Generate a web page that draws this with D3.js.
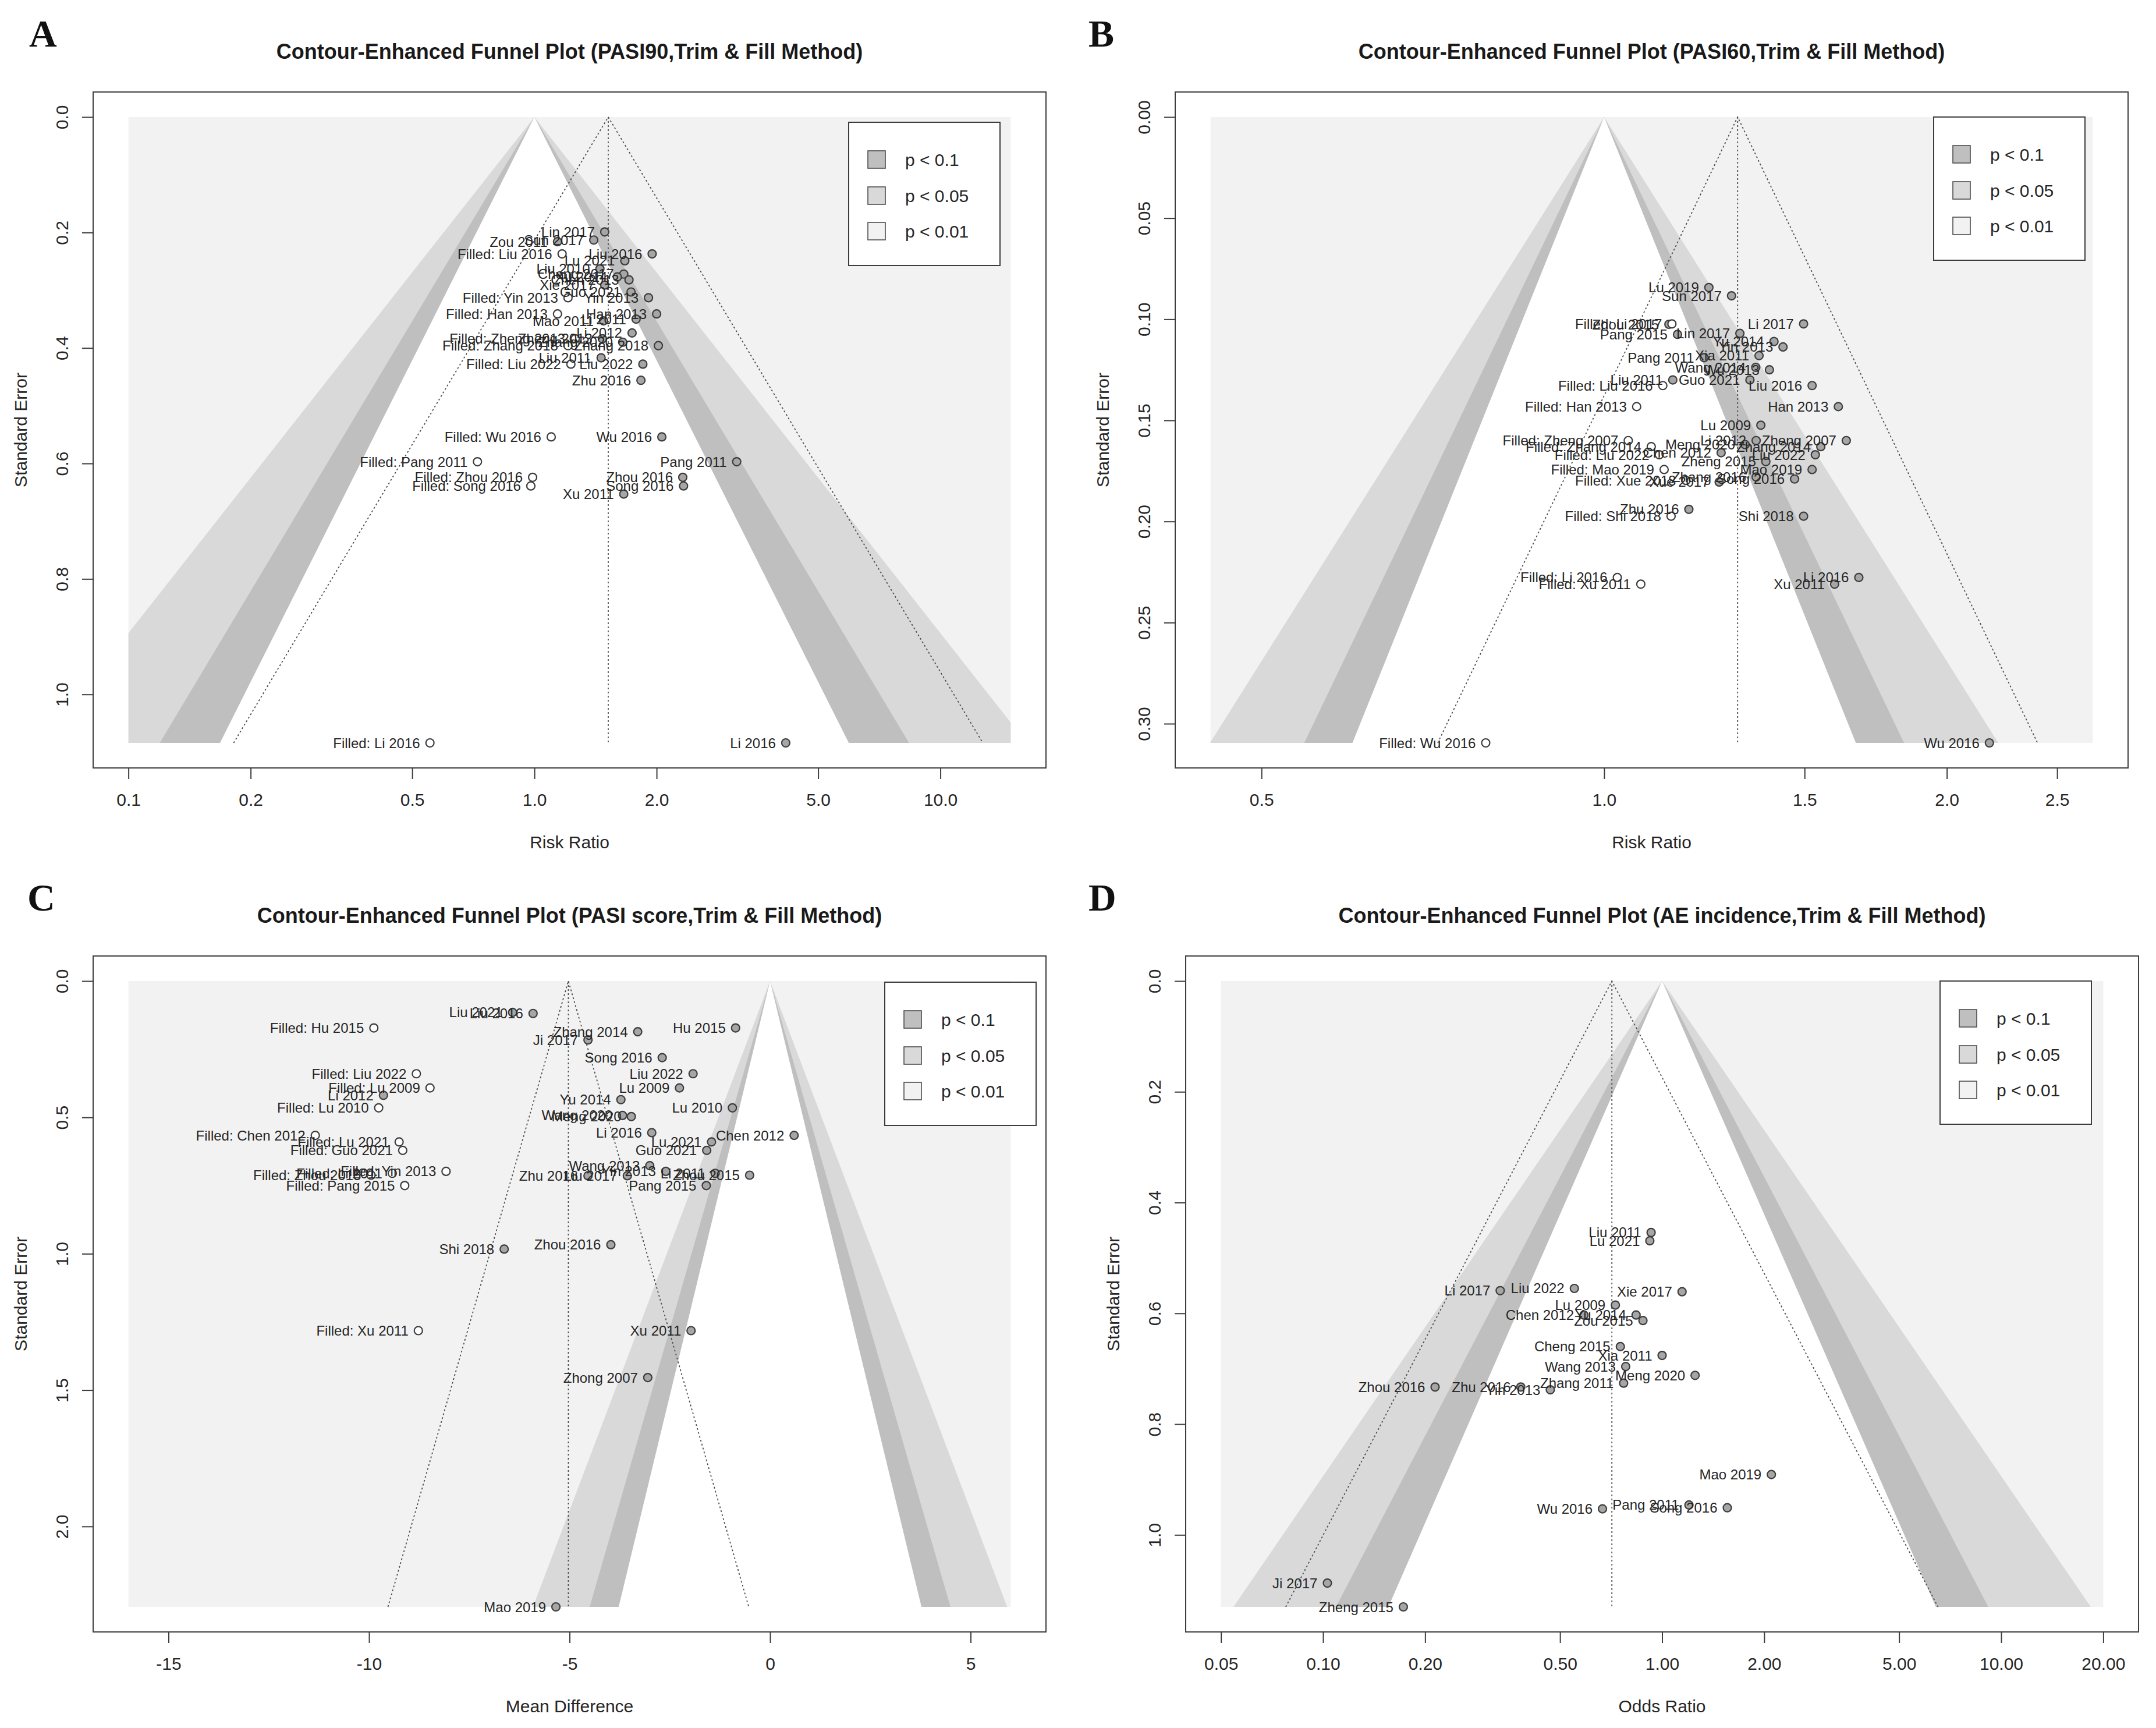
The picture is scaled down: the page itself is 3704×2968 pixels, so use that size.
<!DOCTYPE html>
<html>
<head>
<meta charset="utf-8">
<script src="https://cdn.jsdelivr.net/npm/d3@7"></script>
<style>
  body { margin: 0; background: #fff; }
  text { font-family: "Liberation Sans", Arial, sans-serif; fill: #262626; }
</style>
</head>
<body>
<script>
  var W = 3704, H = 2968;

  // A : PASI90, risk ratio
  var aStudy = ["Lin 2017", "Sun 2017", "Zou 2011", "Liu 2016", "Lu 2021", "Liu 2010", "Cheng 2017", "Xu 2014", "Chen 2013", "Xie 2017",
      "Guo 2021", "Yin 2013", "Han 2013", "Mao 2011", "Li 2011", "Li 2012", "Zheng 2013", "Zhang 2020", "Zhang 2018", "Liu 2011",
      "Liu 2022", "Zhu 2016", "Wu 2016", "Pang 2011", "Zhou 2016", "Song 2016", "Xu 2011", "Li 2016",
      "Filled: Liu 2016", "Filled: Yin 2013", "Filled: Han 2013", "Filled: Zheng 2013", "Filled: Zhang 2018", "Filled: Liu 2022",
      "Filled: Wu 2016", "Filled: Pang 2011", "Filled: Zhou 2016", "Filled: Song 2016", "Filled: Li 2016"];
  var aRR = [1.49, 1.40, 1.14, 1.95, 1.67, 1.45, 1.66, 1.60, 1.71, 1.49,
      1.73, 1.91, 2.00, 1.48, 1.78, 1.74, 1.47, 1.65, 2.02, 1.46,
      1.85, 1.83, 2.06, 3.15, 2.32, 2.33, 1.66, 4.16,
      1.17, 1.21, 1.14, 1.26, 1.21, 1.23, 1.10, 0.724, 0.99, 0.98, 0.553];
  var aSE = [0.199, 0.213, 0.216, 0.237, 0.249, 0.263, 0.272, 0.277, 0.282, 0.291,
      0.303, 0.313, 0.341, 0.353, 0.350, 0.374, 0.384, 0.390, 0.396, 0.417,
      0.428, 0.456, 0.554, 0.597, 0.624, 0.639, 0.653, 1.084,
      0.237, 0.313, 0.341, 0.384, 0.396, 0.428, 0.554, 0.597, 0.624, 0.639, 1.084];
  var aXTicks = [0.1, 0.2, 0.5, 1, 2, 5, 10];
  var aXTickLabels = ["0.1", "0.2", "0.5", "1.0", "2.0", "5.0", "10.0"];
  var aYTicks = [0, 0.2, 0.4, 0.6, 0.8, 1.0];
  var aYTickLabels = ["0.0", "0.2", "0.4", "0.6", "0.8", "1.0"];

  // B : PASI60, risk ratio
  var bStudy = ["Lu 2019", "Sun 2017", "Li 2017", "Zhou 2015", "Lin 2017", "Pang 2015", "Yu 2014", "Yin 2013", "Xia 2011", "Pang 2011",
      "Wang 2014", "Wu 2013", "Liu 2011", "Guo 2021", "Liu 2016", "Han 2013", "Lu 2009", "Zheng 2007", "Li 2012", "Meng 2020",
      "Zhang 2014", "Chen 2012", "Liu 2022", "Zheng 2015", "Mao 2019", "Zhang 2016", "Song 2016", "Xue 2017", "Zhu 2016", "Shi 2018",
      "Li 2016", "Xu 2011", "Wu 2016",
      "Filled: Li 2017", "Filled: Liu 2016", "Filled: Han 2013", "Filled: Zheng 2007", "Filled: Zhang 2014", "Filled: Liu 2022",
      "Filled: Mao 2019", "Filled: Xue 2018", "Filled: Shi 2018", "Filled: Li 2016", "Filled: Xu 2011", "Filled: Wu 2016"];
  var bRR = [1.236, 1.294, 1.497, 1.14, 1.316, 1.16, 1.41, 1.436, 1.368, 1.224,
      1.359, 1.397, 1.149, 1.343, 1.523, 1.606, 1.373, 1.632, 1.36, 1.33,
      1.55, 1.267, 1.533, 1.387, 1.523, 1.36, 1.47, 1.262, 1.187, 1.497,
      1.674, 1.594, 2.18,
      1.147, 1.126, 1.068, 1.05, 1.10, 1.118, 1.129, 1.18, 1.145, 1.027, 1.077, 0.787];
  var bSE = [0.0843, 0.0884, 0.1023, 0.1025, 0.1070, 0.1075, 0.1110, 0.1137, 0.1180, 0.1190,
      0.1238, 0.1250, 0.1300, 0.1300, 0.1328, 0.1432, 0.1524, 0.1600, 0.1600, 0.1620,
      0.1630, 0.1660, 0.1670, 0.1704, 0.1743, 0.1780, 0.1790, 0.1805, 0.1940, 0.1974,
      0.2277, 0.2310, 0.3095,
      0.1023, 0.1328, 0.1432, 0.1600, 0.1630, 0.1670, 0.1743, 0.1797, 0.1974, 0.2277, 0.2310, 0.3095];
  var bXTicks = [0.5, 1.0, 1.5, 2.0, 2.5];
  var bXTickLabels = ["0.5", "1.0", "1.5", "2.0", "2.5"];
  var bYTicks = [0, 0.05, 0.10, 0.15, 0.20, 0.25, 0.30];
  var bYTickLabels = ["0.00", "0.05", "0.10", "0.15", "0.20", "0.25", "0.30"];

  // C : PASI score, mean difference
  var cStudy = ["Liu 2021", "Liu 2016", "Hu 2015", "Zhang 2014", "Ji 2017", "Song 2016", "Liu 2022", "Lu 2009", "Li 2012", "Yu 2014",
      "Lu 2010", "Wang 2020", "Meng 2020", "Li 2016", "Chen 2012", "Lu 2021", "Guo 2021", "Wang 2013", "Yin 2013", "Li 2011",
      "Zhou 2015", "Zhu 2016", "Liu 2017", "Pang 2015", "Zhou 2016", "Shi 2018", "Xu 2011", "Zhong 2007", "Mao 2019",
      "Filled: Hu 2015", "Filled: Liu 2022", "Filled: Lu 2009", "Filled: Lu 2010", "Filled: Chen 2012", "Filled: Lu 2021",
      "Filled: Guo 2021", "Filled: Yin 2013", "Filled: Li 2011", "Filled: Zhou 2015", "Filled: Pang 2015", "Filled: Xu 2011"];
  var cMD = [-6.42, -5.91, -0.86, -3.30, -4.54, -2.69, -1.92, -2.26, -9.64, -3.72,
      -0.94, -3.68, -3.46, -2.95, 0.60, -1.46, -1.58, -3.00, -2.60, -1.37,
      -0.51, -4.54, -3.56, -1.59, -3.97, -6.63, -1.97, -3.05, -5.34,
      -9.88, -8.82, -8.48, -9.76, -11.34, -9.25, -9.16, -8.08, -9.42, -9.95, -9.11, -8.77];
  var cSE = [0.115, 0.119, 0.172, 0.186, 0.216, 0.281, 0.340, 0.392, 0.419, 0.435,
      0.465, 0.493, 0.497, 0.556, 0.566, 0.590, 0.621, 0.677, 0.698, 0.705,
      0.712, 0.714, 0.714, 0.750, 0.967, 0.983, 1.282, 1.454, 2.295,
      0.172, 0.340, 0.392, 0.465, 0.566, 0.590, 0.621, 0.698, 0.705, 0.712, 0.750, 1.282];
  var cXTicks = [-15, -10, -5, 0, 5];
  var cXTickLabels = ["-15", "-10", "-5", "0", "5"];
  var cYTicks = [0, 0.5, 1.0, 1.5, 2.0];
  var cYTickLabels = ["0.0", "0.5", "1.0", "1.5", "2.0"];

  // D : AE incidence, odds ratio
  var dStudy = ["Liu 2011", "Lu 2021", "Liu 2022", "Li 2017", "Xie 2017", "Lu 2009", "Chen 2012", "Yu 2014", "Zou 2015", "Cheng 2015",
      "Xia 2011", "Wang 2013", "Meng 2020", "Zhang 2011", "Zhou 2016", "Zhu 2016", "Yin 2013", "Mao 2019", "Pang 2011", "Song 2016",
      "Wu 2016", "Ji 2017", "Zheng 2015"];
  var dOR = [0.928, 0.920, 0.551, 0.333, 1.145, 0.728, 0.588, 0.838, 0.878, 0.753,
      1.00, 0.781, 1.251, 0.77, 0.214, 0.383, 0.468, 2.10, 1.20, 1.557,
      0.667, 0.103, 0.1725];
  var dSE = [0.454, 0.469, 0.555, 0.559, 0.561, 0.585, 0.603, 0.603, 0.613, 0.660,
      0.676, 0.696, 0.712, 0.726, 0.733, 0.733, 0.738, 0.891, 0.946, 0.951,
      0.953, 1.087, 1.130];
  var dXTicks = [0.05, 0.1, 0.2, 0.5, 1, 2, 5, 10, 20];
  var dXTickLabels = ["0.05", "0.10", "0.20", "0.50", "1.00", "2.00", "5.00", "10.00", "20.00"];
  var dYTicks = [0, 0.2, 0.4, 0.6, 0.8, 1.0];
  var dYTickLabels = ["0.0", "0.2", "0.4", "0.6", "0.8", "1.0"];

  var legendLabels = ["p < 0.1", "p < 0.05", "p < 0.01"];
  var legendFill = ["#bfbfbf", "#d9d9d9", "#f2f2f2"];
  var contourZ = [2.576, 1.96, 1.645];
  var contourFill = ["#d9d9d9", "#bfbfbf", "#ffffff"];

  var panels = [
      { letter: "A", title: "Contour-Enhanced Funnel Plot (PASI90,Trim & Fill Method)", xlab: "Risk Ratio",
        study: aStudy, eff: aRR, se: aSE, est: 1.52, nul: 1, log: true, xlim: [0.1, 14.9],
        xTicks: aXTicks, xLabels: aXTickLabels, yTicks: aYTicks, yLabels: aYTickLabels,
        ox: 0, oy: 0, left: 160, letterX: 50, legRight: 79, legTop: 52 },
      { letter: "B", title: "Contour-Enhanced Funnel Plot (PASI60,Trim & Fill Method)", xlab: "Risk Ratio",
        study: bStudy, eff: bRR, se: bSE, est: 1.31, nul: 1, log: true, xlim: [0.451, 2.687],
        xTicks: bXTicks, xLabels: bXTickLabels, yTicks: bYTicks, yLabels: bYTickLabels,
        ox: 1852, oy: 0, left: 167, letterX: 18, legRight: 74, legTop: 43 },
      { letter: "C", title: "Contour-Enhanced Funnel Plot (PASI score,Trim & Fill Method)", xlab: "Mean Difference",
        study: cStudy, eff: cMD, se: cSE, est: -5.03, nul: 0, log: false, xlim: [-16, 6],
        xTicks: cXTicks, xLabels: cXTickLabels, yTicks: cYTicks, yLabels: cYTickLabels,
        ox: 0, oy: 1484, left: 160, letterX: 47, legRight: 17, legTop: 45 },
      { letter: "D", title: "Contour-Enhanced Funnel Plot (AE incidence,Trim & Fill Method)", xlab: "Odds Ratio",
        study: dStudy, eff: dOR, se: dSE, est: 0.711, nul: 1, log: true, xlim: [0.05, 20],
        xTicks: dXTicks, xLabels: dXTickLabels, yTicks: dYTicks, yLabels: dYTickLabels,
        ox: 1852, oy: 1484, left: 185, letterX: 18, legRight: 81, legTop: 43 }
  ];

  var plotW = 1637, plotTop = 158, plotBottom = 1319;
  var legW = 260, legH = 246, legRows = [64, 126, 187];

  var svg = d3.select("body").append("svg")
      .attr("width", W)
      .attr("height", H);

  svg.append("rect").attr("width", W).attr("height", H).attr("fill", "#fff");

  panels.forEach(function (p) {
      var g = svg.append("g").attr("transform", "translate(" + p.ox + "," + p.oy + ")");
      var left = p.left, right = p.left + plotW, top = plotTop, bottom = plotBottom;
      var seMax = d3.max(p.se);

      //SCALES (R style 4% padding)
      var y = d3.scaleLinear()
          .domain([-0.04 * seMax, 1.04 * seMax])
          .range([top, bottom]);
      var x;
      if (p.log) {
          var r = Math.pow(p.xlim[1] / p.xlim[0], 0.04);
          x = d3.scaleLog().domain([p.xlim[0] / r, p.xlim[1] * r]).range([left, right]);
      } else {
          var pad = 0.04 * (p.xlim[1] - p.xlim[0]);
          x = d3.scaleLinear().domain([p.xlim[0] - pad, p.xlim[1] + pad]).range([left, right]);
      }
      var side = function (c, z, s, sign) {
          return p.log ? c * Math.exp(sign * z * s) : c + sign * z * s;
      };

      //BACKGROUND + CONTOURS
      var gx0 = x(p.xlim[0]), gx1 = x(p.xlim[1]);
      g.append("clipPath").attr("id", "clip" + p.letter)
          .append("rect")
          .attr("x", gx0).attr("y", y(0))
          .attr("width", gx1 - gx0).attr("height", y(seMax) - y(0));
      g.append("rect")
          .attr("x", gx0).attr("y", y(0))
          .attr("width", gx1 - gx0).attr("height", y(seMax) - y(0))
          .attr("fill", "#f2f2f2");
      var cg = g.append("g").attr("clip-path", "url(#clip" + p.letter + ")");
      contourZ.forEach(function (z, i) {
          cg.append("polygon")
              .attr("points", [[x(p.nul), y(0)],
                  [x(side(p.nul, z, seMax, -1)), y(seMax)],
                  [x(side(p.nul, z, seMax, 1)), y(seMax)]].join(" "))
              .attr("fill", contourFill[i]);
      });

      //TRIM & FILL FUNNEL
      var fl = g.append("g")
          .attr("stroke", "#4d4d4d")
          .attr("stroke-width", 1.8)
          .attr("stroke-dasharray", "3,4")
          .attr("fill", "none");
      fl.append("line")
          .attr("x1", x(p.est)).attr("x2", x(p.est))
          .attr("y1", y(0)).attr("y2", y(seMax));
      fl.append("path")
          .attr("d", d3.line()([[x(side(p.est, 1.96, seMax, -1)), y(seMax)],
              [x(p.est), y(0)],
              [x(side(p.est, 1.96, seMax, 1)), y(seMax)]]));

      //POINTS
      var idx = d3.range(p.study.length);
      g.append("g").selectAll("circle")
          .data(idx)
          .enter()
          .append("circle")
          .attr("cx", function (i) { return x(p.eff[i]); })
          .attr("cy", function (i) { return y(p.se[i]); })
          .attr("r", 7)
          .attr("fill", function (i) {
              return p.study[i].indexOf("Filled") === 0 ? "#ffffff" : "#a6a6a6";
          })
          .attr("stroke", "#3d3d3d")
          .attr("stroke-width", 2.2);

      //STUDY LABELS (left of point)
      g.append("g").selectAll("text")
          .data(idx)
          .enter()
          .append("text")
          .attr("x", function (i) { return x(p.eff[i]) - 17; })
          .attr("y", function (i) { return y(p.se[i]) + 8.5; })
          .attr("text-anchor", "end")
          .attr("font-size", 24)
          .text(function (i) { return p.study[i]; });

      //AXES
      var xa = g.append("g")
          .attr("transform", "translate(0," + bottom + ")")
          .call(d3.axisBottom(x)
              .tickValues(p.xTicks)
              .tickFormat(function (d, i) { return p.xLabels[i]; })
              .tickSize(19)
              .tickPadding(25));
      xa.select(".domain").remove();
      xa.selectAll("line").attr("stroke", "#3d3d3d").attr("stroke-width", 2);
      xa.selectAll("text")
          .attr("font-size", 30);

      var ya = g.append("g")
          .attr("transform", "translate(" + left + ",0)")
          .call(d3.axisLeft(y)
              .tickValues(p.yTicks)
              .tickFormat(function (d, i) { return p.yLabels[i]; })
              .tickSize(19));
      ya.select(".domain").remove();
      ya.selectAll("line").attr("stroke", "#3d3d3d").attr("stroke-width", 2);
      ya.selectAll("text")
          .attr("x", null)
          .attr("dy", null)
          .attr("text-anchor", "middle")
          .attr("font-size", 30)
          .attr("transform", "translate(-43,0) rotate(-90)");

      //BOX
      g.append("rect")
          .attr("x", left).attr("y", top)
          .attr("width", right - left).attr("height", bottom - top)
          .attr("fill", "none")
          .attr("stroke", "#3d3d3d")
          .attr("stroke-width", 2);

      //TITLES
      g.append("text")
          .attr("x", (left + right) / 2)
          .attr("y", 101)
          .attr("text-anchor", "middle")
          .attr("font-size", 36)
          .attr("font-weight", "bold")
          .style("fill", "#1a1a1a")
          .text(p.title);
      g.append("text")
          .attr("x", (left + right) / 2)
          .attr("y", 1457)
          .attr("text-anchor", "middle")
          .attr("font-size", 30)
          .text(p.xlab);
      g.append("text")
          .attr("transform", "translate(" + (left - 114) + "," + ((top + bottom) / 2) + ") rotate(-90)")
          .attr("text-anchor", "middle")
          .attr("font-size", 30)
          .text("Standard Error");
      g.append("text")
          .attr("x", p.letterX)
          .attr("y", 80)
          .attr("font-size", 66)
          .attr("font-weight", "bold")
          .style("font-family", "'Liberation Serif', 'Times New Roman', serif")
          .style("fill", "#111")
          .text(p.letter);

      //LEGEND
      var lg = g.append("g")
          .attr("transform", "translate(" + (right - p.legRight - legW) + "," + (top + p.legTop) + ")");
      lg.append("rect")
          .attr("width", legW).attr("height", legH)
          .attr("fill", "#fff")
          .attr("stroke", "#3d3d3d")
          .attr("stroke-width", 2);
      legendLabels.forEach(function (t, i) {
          lg.append("rect")
              .attr("x", 33).attr("y", legRows[i] - 15)
              .attr("width", 30).attr("height", 30)
              .attr("fill", legendFill[i])
              .attr("stroke", "#4d4d4d")
              .attr("stroke-width", 1.6);
          lg.append("text")
              .attr("x", 97)
              .attr("y", legRows[i] + 11)
              .attr("font-size", 30)
              .text(t);
      });
  });
</script>
</body>
</html>
